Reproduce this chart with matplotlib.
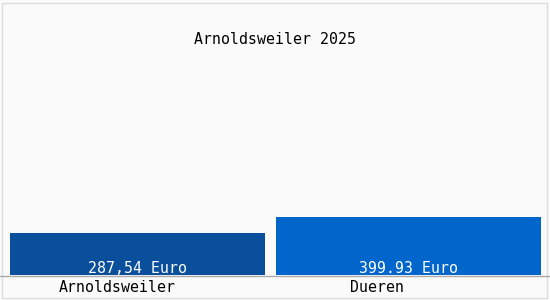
import matplotlib
matplotlib.use("Agg")
import matplotlib.pyplot as plt
import matplotlib.transforms as mtransforms
from matplotlib.patches import Rectangle

# chart data
places = ["Arnoldsweiler", "Dueren"]
values = [287.54, 399.93]
value_labels = ["287,54 Euro", "399.93 Euro"]
title = "Arnoldsweiler 2025"

bar_colors = ["#0a4f9b", "#0066cc"]
bar_widths = [0.96, 1.0]
label_shift_px = [-20, -31]  # category labels sit a bit left of bar centre

plt.rcParams['font.family'] = ['DejaVu Sans Mono']
FS = 10.7

fig = plt.figure(figsize=(5.5, 3.0), dpi=100, facecolor="#fafafa")
W, H = 550, 300
# axes: x 10..541 px, y from 275 px (baseline) up to 25 px
ax = fig.add_axes([10 / W, (H - 275) / H, 531 / W, 250 / H])
ax.set_facecolor("#fafafa")

xs = list(range(len(places)))
ax.bar(xs, values, width=bar_widths, align="edge", color=bar_colors, zorder=2)
ax.set_xlim(0, 2)
ax.set_ylim(0, 1720)
centers = [x + w / 2 for x, w in zip(xs, bar_widths)]

for c, lab in zip(centers, value_labels):
    ax.text(c, 0, lab, ha="center", va="bottom", color="white",
            fontsize=FS, zorder=3,
            transform=ax.transData + mtransforms.ScaledTranslation(0, -1 / 100, fig.dpi_scale_trans))

for c, name, dx in zip(centers, places, label_shift_px):
    off = mtransforms.ScaledTranslation(dx / 100, -13 / 100, fig.dpi_scale_trans)
    ax.text(c, 0, name, ha="center", va="center", color="black",
            fontsize=FS, transform=ax.get_xaxis_transform() + off, clip_on=False)

for s in ax.spines.values():
    s.set_visible(False)
ax.set_xticks([])
ax.set_yticks([])

# baseline across the whole figure
fig.add_artist(plt.Line2D([0, 1], [(H - 275.5) / H] * 2, color="#aaaaaa", lw=1,
                          transform=fig.transFigure))
# light frame
fig.add_artist(Rectangle((2 / W, 2 / H), 545 / W, 295 / H, fill=False,
                         edgecolor="#dddddd", lw=1, transform=fig.transFigure))

fig.text(0.5, (H - 39) / H, title, ha="center", va="center", fontsize=FS, color="black")

fig.savefig("out.png", dpi=100, facecolor=fig.get_facecolor())
